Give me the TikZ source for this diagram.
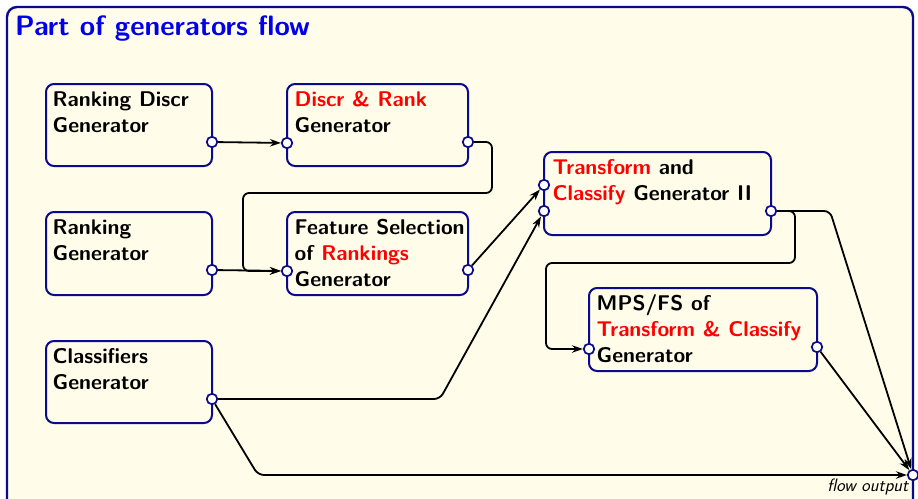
\documentclass[tikz,border=0pt]{standalone}
\usetikzlibrary{arrows.meta,calc}
\definecolor{cream}{RGB}{255,253,233}
\definecolor{navy}{RGB}{10,10,140}
\definecolor{titleblue}{RGB}{0,0,235}
% invisible strut: puts the first baseline a fixed 17pt below the label's top
\newcommand{\firststrut}{\rule{0pt}{17pt}}
\tikzset{
  x=1pt, y=-1pt,
  frame/.style={draw=navy, line width=2.4pt, rounded corners=10pt, fill=cream},
  genbox/.style={draw=navy, line width=2pt, rounded corners=8pt, fill=cream, inner sep=0pt},
  gentext/.style={anchor=north west, inner sep=0pt, align=left,
    font=\sffamily\bfseries\fontsize{21.3}{25.8}\selectfont},
  port/.style={circle, draw=navy, fill=white, line width=1.7pt, inner sep=0pt, minimum size=10.5pt},
  flow/.style={draw=black, line width=1.8pt, rounded corners=6pt, -{Stealth[length=11pt,width=7.5pt]}},
}
\begin{document}
\begin{tikzpicture}
\useasboundingbox (0,0) rectangle (918,498);
% outer frame and title
\path[frame] (7,7) rectangle (913,520);
\node[anchor=base west, inner sep=0pt, text=titleblue,
      font=\sffamily\bfseries\fontsize{28}{32}\selectfont] (title) at (15,35) {Part of generators flow};

% generator boxes
\node[genbox, minimum width=166pt, minimum height=82pt] (A) at (129,125) {};
\node[genbox, minimum width=181pt, minimum height=82pt] (B) at (377.5,125) {};
\node[genbox, minimum width=166pt, minimum height=83pt] (C) at (129,253.5) {};
\node[genbox, minimum width=181pt, minimum height=83pt] (D) at (377.5,253.5) {};
\node[genbox, minimum width=166pt, minimum height=82pt] (E) at (129,382) {};
\node[genbox, minimum width=227pt, minimum height=83pt] (F) at (657.5,193.5) {};
\node[genbox, minimum width=228pt, minimum height=83pt] (G) at (703,329.5) {};

% box labels (first baseline 17pt below the given point)
\node[gentext] (At) at (52.5,89.7) {\firststrut Ranking Discr\\Generator};
\node[gentext] (Bt) at (294.5,89.7) {\firststrut\textcolor{red}{Discr \& Rank}\\Generator};
\node[gentext] (Ct) at (52.5,217.7) {\firststrut Ranking\\Generator};
\node[gentext] (Dt) at (294.5,217.7) {\firststrut Feature Selection\\of \textcolor{red}{Rankings}\\Generator};
\node[gentext] (Et) at (52.5,346.7) {\firststrut Classifiers\\Generator};
\node[gentext] (Ft) at (552.5,157) {\firststrut\textcolor{red}{Transform} and\\\textcolor{red}{Classify} Generator II};
\node[gentext] (Gt) at (596.5,293.7) {\firststrut MPS/FS of\\\textcolor{red}{Transform \& Classify}\\Generator};

% ports
\node[port] (Ao) at (212,142) {};
\node[port] (Bi) at (287,143) {};
\node[port] (Bo) at (468,142) {};
\node[port] (Co) at (212,270) {};
\node[port] (Di) at (287,271) {};
\node[port] (Do) at (468,270) {};
\node[port] (Eo) at (212,399) {};
\node[port] (Fi1) at (544,185) {};
\node[port] (Fi2) at (544,211) {};
\node[port] (Fo) at (771,211) {};
\node[port] (Gi) at (589,349) {};
\node[port] (Go) at (817,347) {};
\node[port] (Out) at (913,475) {};
\node[anchor=base east, inner sep=0pt, font=\sffamily\itshape\fontsize{18}{21}\selectfont] (Outl) at (908.5,491.5) {flow output};

% connectors
\draw[flow] (Ao) -- (Bi);
\draw[flow] (Bo) -- (492,142) -- (492,193) -| (243,271) -- (Di);
\draw[flow] (Co) -- (Di);
\draw[flow] (Do) -- (Fi1);
\draw[flow] (Eo) -- (440,399) -- (Fi2);
\draw[flow] (Eo) -- (258,475) -- (Out);
\draw[flow] (Fo) -- (795,211) -- (795,263) -| (546,349) -- (Gi);
\draw[flow] (Fo) -- (830,211) -- (Out);
\draw[flow] (Go) -- (Out);
\end{tikzpicture}
\end{document}
